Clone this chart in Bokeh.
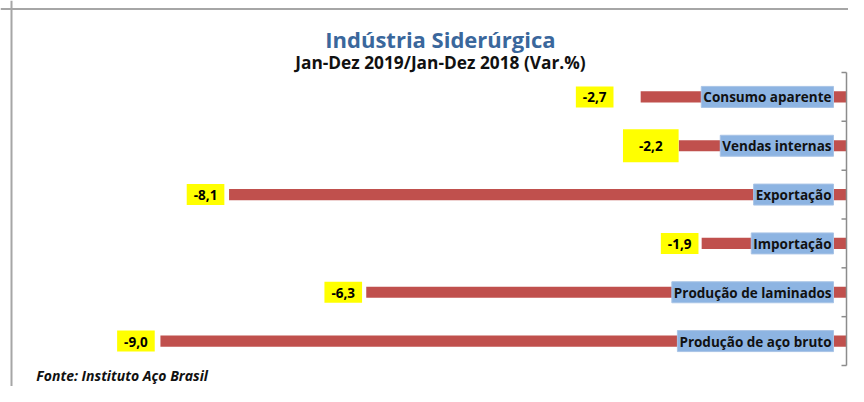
from bokeh.plotting import figure
from bokeh.models import ColumnDataSource, Range1d, Span, CDSView, IndexFilter, Label
from bokeh.core.properties import value
from bokeh.embed import file_html
from bokeh.resources import INLINE

# ---- data ----
categories = ["Consumo aparente", "Vendas internas", "Exportação",
              "Importação", "Produção de laminados", "Produção de aço bruto"]
variation = [-2.7, -2.2, -8.1, -1.9, -6.3, -9.0]
value_labels = [f"{v:.1f}".replace(".", ",") for v in variation]

title = "Indústria Siderúrgica"
subtitle = "Jan-Dez 2019/Jan-Dez 2018 (Var.%)"
footer = "Fonte: Instituto Aço Brasil"

# ---- layout ----
W, H = 848, 386
n = len(categories)
ypos = [n - 0.5 - i for i in range(n)]

K = (846 - 11) / (852 - 11)          # slight horizontal compression to fit
X0_PX = 846                          # zero line position in canvas px
XSCALE = 691 * K / 9.0               # px per unit
Y0_PX, YSCALE = 365, 293 / 6.0
x_start = -X0_PX / XSCALE
x_end = (W - X0_PX) / XSCALE
y_end = Y0_PX / YSCALE
y_start = -(H - Y0_PX) / YSCALE

def dx(px):  # reference px -> data x
    fx = 11 + (px - 11) * K
    return (fx - X0_PX) / XSCALE

def dy(py):
    return (Y0_PX - py) / YSCALE

p = figure(width=W, height=H, output_backend="svg", toolbar_location=None,
           x_range=Range1d(x_start, x_end), y_range=Range1d(y_start, y_end),
           min_border=0, outline_line_color=None)
p.axis.visible = False
p.grid.visible = False
p.background_fill_color = "white"
p.border_fill_color = "white"

label_offsets = [-46, -28, -23.5, -22, -23, -24.5]
src = ColumnDataSource(dict(cat=categories, val=variation, lab=value_labels,
                            y=ypos, off=label_offsets))

# outer frame lines
p.add_layout(Span(location=dx(11), dimension="height", line_color="#A6A6A6", line_width=2))
p.add_layout(Span(location=dy(8.5), dimension="width", line_color="#A6A6A6", line_width=2))

# bars
p.hbar(y="y", left="val", right=0, height=0.23, source=src,
       fill_color="#C0504D", line_color=None)

# axis line and ticks
tick_len = 5 / XSCALE
p.segment(x0=[0], y0=[0], x1=[0], y1=[n], line_color="#8C8C8C", line_width=1.5)
p.segment(x0=[0] * (n + 1), y0=list(range(n + 1)), x1=[-tick_len] * (n + 1),
          y1=list(range(n + 1)), line_color="#8C8C8C", line_width=1.5)

# category labels
p.text(x=0, y="y", text="cat", source=src, x_offset=-13,
       text_align="right", text_baseline="middle",
       text_font=value("Open Sans"), text_font_style="bold", text_font_size="13.5px",
       text_color="#111111", background_fill_color="#8DB4E2",
       border_line_color="#A9C4E6", padding=dict(left=2, right=2, top=2, bottom=1))

# value labels
main = CDSView(filter=IndexFilter([0, 2, 3, 4, 5]))
big = CDSView(filter=IndexFilter([1]))
common = dict(text_align="center", text_baseline="middle",
              text_font=value("Open Sans"), text_font_style="bold",
              text_font_size="13.5px", text_color="#000000",
              background_fill_color="#FFFF00", border_line_color=None)
p.text(x="val", y="y", text="lab", x_offset="off", source=src, view=main,
       padding=dict(left=7, right=7, top=6, bottom=5), **common)
p.text(x="val", y="y", text="lab", x_offset="off", source=src, view=big,
       padding=dict(left=16, right=16, top=12, bottom=11), **common)

# titles
p.add_layout(Label(x=dx(443), y=dy(38), text=title, text_align="center",
                   text_baseline="middle", text_font="Open Sans",
                   text_font_style="bold", text_font_size="22px",
                   text_color="#3A679C"))
p.add_layout(Label(x=dx(443), y=dy(62), text=subtitle, text_align="center",
                   text_baseline="middle", text_font="Open Sans",
                   text_font_style="bold", text_font_size="17.3px",
                   text_color="#111111"))
p.add_layout(Label(x=dx(36), y=dy(375), text=footer, text_align="left",
                   text_baseline="middle", text_font="Open Sans",
                   text_font_style="bold italic", text_font_size="14px",
                   text_color="#111111"))

open("out.html", "w").write(file_html(p, INLINE))
